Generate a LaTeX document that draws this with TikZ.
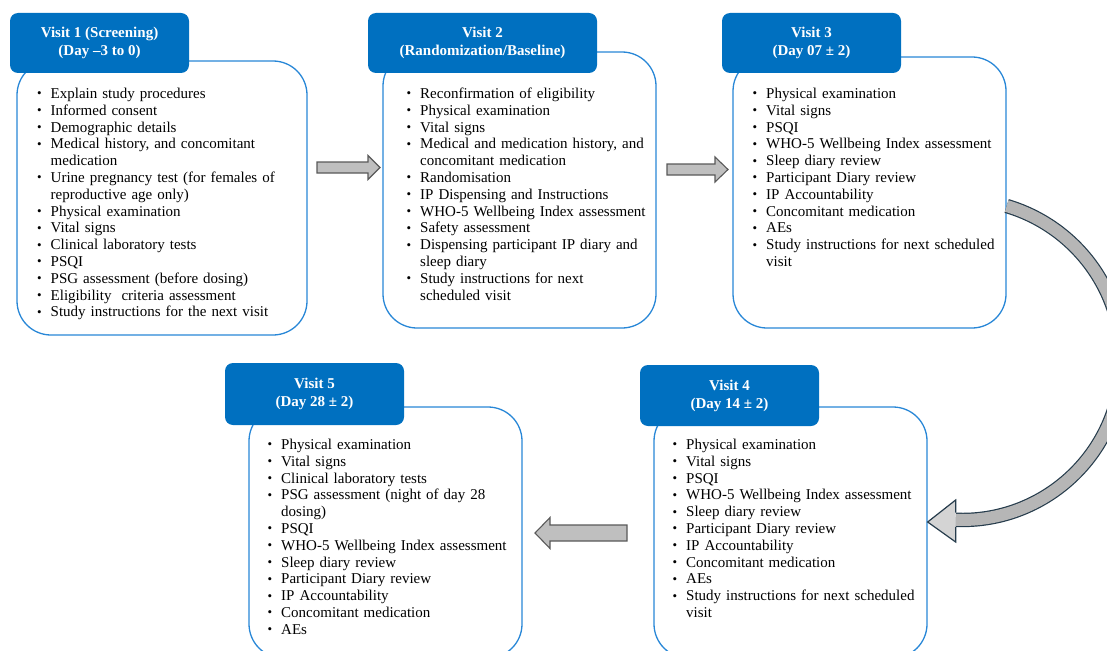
\documentclass[tikz,border=0pt]{standalone}
\usepackage{fontspec}
\setmainfont{Liberation Serif}
\usepackage{tikz}
\usetikzlibrary{calc}

\definecolor{visitblue}{RGB}{0,112,192}
\definecolor{lineblue}{RGB}{40,135,215}
\definecolor{arrowgray}{RGB}{191,191,191}
\definecolor{arrowline}{RGB}{89,89,89}
\definecolor{curvegray}{RGB}{182,182,182}
\definecolor{headgray}{RGB}{212,212,212}
\definecolor{curveline}{RGB}{38,60,76}

\newcommand{\vitem}[1]{\noindent\hangindent=13.5pt\hangafter=1\strut\makebox[13.5pt][l]{\raisebox{0.5pt}{\fontsize{13}{13}\selectfont\textbullet}}#1\par}

\begin{document}
\begin{tikzpicture}
 [x=1pt, y=-1pt,
  body/.style={draw=lineblue, line width=1.3pt, fill=white, rounded corners=34pt, inner sep=0pt},
  title/.style={fill=visitblue, rounded corners=8pt, text=white, align=center, inner sep=0pt, minimum width=179pt, font=\fontsize{15}{18}\selectfont\bfseries},
  list/.style={anchor=north west, inner sep=0pt, text width=262pt, align=left, font=\fontsize{15}{16.8}\selectfont},
  flatarrow/.style={draw=arrowline, fill=arrowgray, line width=1.1pt, line join=miter}]

\useasboundingbox (0,0) rectangle (1107,650);
\clip (0,0) rectangle (1107,650);

\node[body, minimum width=290pt, minimum height=274pt] (v1) at (162,198) {};
\node[title, minimum height=60pt] (t1) at (99.5,43) {Visit 1 (Screening)\\(Day –3 to 0)};
\node[list] (l1) at (37,86.5) {\vitem{Explain study procedures}
  \vitem{Informed consent}
  \vitem{Demographic details}
  \vitem{Medical history, and concomitant\newline medication}
  \vitem{Urine pregnancy test (for females of\newline reproductive age only)}
  \vitem{Physical examination}
  \vitem{Vital signs}
  \vitem{Clinical laboratory tests}
  \vitem{PSQI}
  \vitem{PSG assessment (before dosing)}
  \vitem{Eligibility\ \ criteria assessment}
  \vitem{Study instructions for the next visit}};

\node[body, minimum width=273pt, minimum height=276pt] (v2) at (519.5,190) {};
\node[title, minimum width=229pt, minimum height=60pt] (t2) at (482.5,43) {Visit 2\\(Randomization/Baseline)};
\node[list] (l2) at (406.5,86.5) {\vitem{Reconfirmation of eligibility}
  \vitem{Physical examination}
  \vitem{Vital signs}
  \vitem{Medical and medication history, and\newline concomitant medication}
  \vitem{Randomisation}
  \vitem{IP Dispensing and Instructions}
  \vitem{WHO-5 Wellbeing Index assessment}
  \vitem{Safety assessment}
  \vitem{Dispensing participant IP diary and\newline sleep diary}
  \vitem{Study instructions for next\newline scheduled visit}};

\node[body, minimum width=273pt, minimum height=271pt] (v3) at (869.5,192.5) {};
\node[title, minimum height=60pt] (t3) at (811.5,43) {Visit 3\\(Day 07 ± 2)};
\node[list] (l3) at (752.5,86.5) {\vitem{Physical examination}
  \vitem{Vital signs}
  \vitem{PSQI}
  \vitem{WHO-5 Wellbeing Index assessment}
  \vitem{Sleep diary review}
  \vitem{Participant Diary review}
  \vitem{IP Accountability}
  \vitem{Concomitant medication}
  \vitem{AEs}
  \vitem{Study instructions for next scheduled\newline visit}};

\node[body, minimum width=273pt, minimum height=251pt] (v4) at (790.5,532.5) {};
\node[title, minimum height=61pt] (t4) at (729.5,395.5) {Visit 4\\(Day 14 ± 2)};
\node[list] (l4) at (672.5,437.5) {\vitem{Physical examination}
  \vitem{Vital signs}
  \vitem{PSQI}
  \vitem{WHO-5 Wellbeing Index assessment}
  \vitem{Sleep diary review}
  \vitem{Participant Diary review}
  \vitem{IP Accountability}
  \vitem{Concomitant medication}
  \vitem{AEs}
  \vitem{Study instructions for next scheduled\newline visit}};

\node[body, minimum width=273pt, minimum height=251pt] (v5) at (385.5,532.5) {};
\node[title, minimum height=62pt] (t5) at (314.5,394) {Visit 5\\(Day 28 ± 2)};
\node[list] (l5) at (267.5,437.5) {\vitem{Physical examination}
  \vitem{Vital signs}
  \vitem{Clinical laboratory tests}
  \vitem{PSG assessment (night of day 28\newline dosing)}
  \vitem{PSQI}
  \vitem{WHO-5 Wellbeing Index assessment}
  \vitem{Sleep diary review}
  \vitem{Participant Diary review}
  \vitem{IP Accountability}
  \vitem{Concomitant medication}
  \vitem{AEs}};

\draw[flatarrow] (317,162) -- ++(51,0) -- ++(0,-6.5) -- ++(12,12) -- ++(-12,12) -- ++(0,-6.5) -- ++(-51,0) -- cycle;
\draw[flatarrow] (667,164) -- ++(48,0) -- ++(0,-7) -- ++(13,12.5) -- ++(-13,12.5) -- ++(0,-7) -- ++(-48,0) -- cycle;
\draw[flatarrow] (627,525) -- ++(-77,0) -- ++(0,-7.5) -- ++(-15,15.5) -- ++(15,15.5) -- ++(0,-7.5) -- ++(77,0) -- cycle;

\coordinate (tip) at ($(v4.east)+(0,-10.5)$);
\coordinate (neck) at ($(tip)+(28,-2.2)$);
\draw[line width=1.2pt, draw=curveline, double=curvegray, double distance=12pt]
  ($(v3.east)+(0,13.5)$) .. controls (1084.5,229.1) and (1133.1,306.3) .. (1119.9,386.1)
  .. controls (1106.7,465.9) and (1035.8,523.3) .. (neck);
\fill[headgray] (tip) -- ++(28,-22) -- ++(0,42) -- cycle;
\draw[line width=1.2pt, curveline] ($(tip)+(28,-9.4)$) -- ++(0,-12.6) -- (tip) -- ++(28,20) -- ++(0,-15);

\end{tikzpicture}
\end{document}
